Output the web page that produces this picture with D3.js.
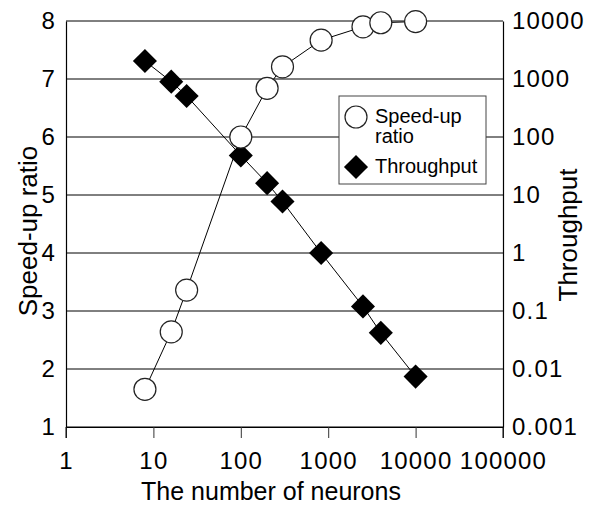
<!DOCTYPE html>
<html>
<head>
<meta charset="utf-8">
<script src="https://cdn.jsdelivr.net/npm/d3@7"></script>
<style>
  body { margin: 0; background: #fff; }
  svg { display: block; font-family: "Liberation Sans", Arial, sans-serif; }
</style>
</head>
<body>
<svg id="chart"></svg>
<script>
// values
var neurons    = [8, 16, 24, 100, 200, 300, 830, 2500, 4000, 10000];
var speedup    = [1.65, 2.64, 3.36, 6.0, 6.84, 7.21, 7.67, 7.9, 7.97, 7.99];
var throughput = [2040, 900, 510, 48, 16, 7.7, 1.0, 0.12, 0.042, 0.0074];

var xTicks = [1, 10, 100, 1000, 10000, 100000];
var xTickLabels = ["1", "10", "100", "1000", "10000", "100000"];
var leftTicks = [1, 2, 3, 4, 5, 6, 7, 8];
var leftTickLabels = ["1", "2", "3", "4", "5", "6", "7", "8"];
var rightTicks = [0.001, 0.01, 0.1, 1, 10, 100, 1000, 10000];
var rightTickLabels = ["0.001", "0.01", "0.1", "1", "10", "100", "1000", "10000"];

var width = 590, height = 506;
var plotL = 66, plotR = 503, plotT = 21, plotB = 427;

var svg = d3.select("#chart").attr("width", width).attr("height", height);

var x = d3.scaleLog().domain([1, 100000]).range([plotL, plotR]);
var yL = d3.scaleLinear().domain([1, 8]).range([plotB, plotT]);
var yR = d3.scaleLog().domain([0.001, 10000]).range([plotB, plotT]);

// gridlines
svg.append("g").selectAll("line")
    .data(leftTicks)
    .enter().append("line")
      .attr("x1", plotL).attr("x2", plotR)
      .attr("y1", function(d){ return yL(d); })
      .attr("y2", function(d){ return yL(d); })
      .attr("stroke", "#000").attr("stroke-width", 1);

// axes
var xAxis = svg.append("g")
    .attr("transform", "translate(0," + plotB + ")")
    .call(d3.axisBottom(x).tickValues(xTicks).tickSize(11).tickSizeOuter(0).tickPadding(14)
        .tickFormat(function(d, i){ return xTickLabels[i]; }));

var lAxis = svg.append("g")
    .attr("transform", "translate(" + plotL + ",0)")
    .call(d3.axisLeft(yL).tickValues(leftTicks).tickSize(0).tickPadding(10)
        .tickFormat(function(d, i){ return leftTickLabels[i]; }));

var rAxis = svg.append("g")
    .attr("transform", "translate(" + plotR + ",0)")
    .call(d3.axisRight(yR).tickValues(rightTicks).tickSize(0).tickPadding(9)
        .tickFormat(function(d, i){ return rightTickLabels[i]; }));

[xAxis, lAxis, rAxis].forEach(function(a){
    a.selectAll("path.domain").attr("stroke", "#000").attr("stroke-width", 1.2);
    a.selectAll(".tick line").attr("stroke", "#000");
    a.selectAll("text")
        .attr("font-family", "Liberation Sans, Arial, sans-serif")
        .attr("font-size", 24)
        .attr("letter-spacing", 1.2)
        .attr("fill", "#000");
});
xAxis.selectAll(".tick line").attr("stroke", "#333");
// the left and right axis lines run down to the tick length
svg.append("line").attr("x1", plotL).attr("x2", plotL).attr("y1", plotB).attr("y2", plotB + 11).attr("stroke", "#000");
svg.append("line").attr("x1", plotR).attr("x2", plotR).attr("y1", plotB).attr("y2", plotB + 11).attr("stroke", "#000");

// lines
var tLine = d3.line()
    .x(function(d){ return x(d[0]); })
    .y(function(d){ return yR(d[1]); });
var sLine = d3.line()
    .x(function(d){ return x(d[0]); })
    .y(function(d){ return yL(d[1]); });

var tData = neurons.map(function(n, i){ return [n, throughput[i]]; });
var sData = neurons.map(function(n, i){ return [n, speedup[i]]; });

svg.append("path").datum(tData).attr("d", tLine)
    .attr("fill", "none").attr("stroke", "#000").attr("stroke-width", 1);
svg.append("path").datum(sData).attr("d", sLine)
    .attr("fill", "none").attr("stroke", "#000").attr("stroke-width", 1);

var diamond = d3.symbol().type(d3.symbolSquare).size(290);

svg.append("g").selectAll("path")
    .data(tData)
    .enter().append("path")
      .attr("d", diamond)
      .attr("transform", function(d){ return "translate(" + x(d[0]) + "," + yR(d[1]) + ") rotate(45)"; })
      .attr("fill", "#000");

svg.append("g").selectAll("circle")
    .data(sData)
    .enter().append("circle")
      .attr("cx", function(d){ return x(d[0]); })
      .attr("cy", function(d){ return yL(d[1]); })
      .attr("r", 11)
      .attr("fill", "#fff")
      .attr("stroke", "#222")
      .attr("stroke-width", 1.2);

// legend
var lg = svg.append("g");
lg.append("rect")
    .attr("x", 339).attr("y", 96).attr("width", 147).attr("height", 88)
    .attr("fill", "#fff").attr("stroke", "#444").attr("stroke-width", 1);
lg.append("circle").attr("cx", 356).attr("cy", 117).attr("r", 11)
    .attr("fill", "#fff").attr("stroke", "#222").attr("stroke-width", 1.2);
lg.append("path").attr("d", diamond)
    .attr("transform", "translate(356,167) rotate(45)").attr("fill", "#000");
lg.append("text").attr("x", 375).attr("y", 123).text("Speed-up");
lg.append("text").attr("x", 375).attr("y", 143).text("ratio");
lg.append("text").attr("x", 375).attr("y", 173).text("Throughput");
lg.selectAll("text").attr("font-size", 20).attr("fill", "#000");

// axis titles
svg.append("text")
    .attr("x", 271).attr("y", 500)
    .attr("text-anchor", "middle").attr("font-size", 25)
    .text("The number of neurons");
svg.append("text")
    .attr("transform", "translate(37,231) rotate(-90)")
    .attr("text-anchor", "middle").attr("font-size", 26)
    .text("Speed-up ratio");
svg.append("text")
    .attr("transform", "translate(577,235) rotate(-90)")
    .attr("text-anchor", "middle").attr("font-size", 26)
    .text("Throughput");
</script>
</body>
</html>
